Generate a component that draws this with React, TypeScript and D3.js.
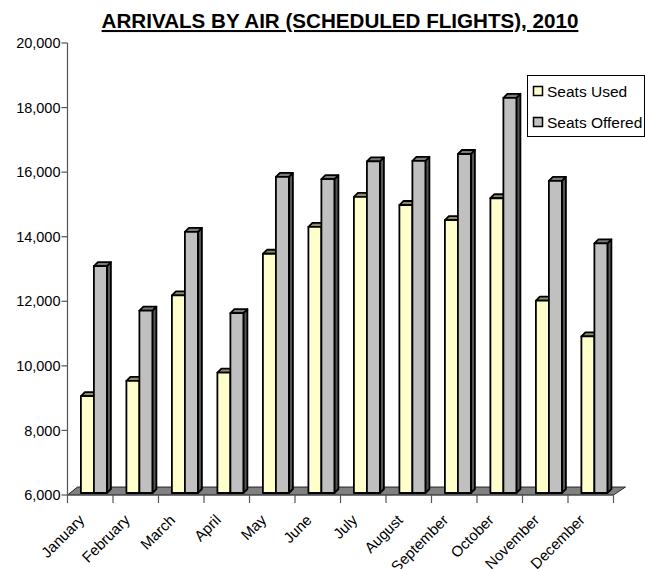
import React from "react";
import * as d3 from "d3";

const months = ["January","February","March","April","May","June","July","August","September","October","November","December"];
const seatsUsed = [9000, 9470, 12120, 9730, 13410, 14240, 15170, 14920, 14450, 15130, 11960, 10850];
const seatsOffered = [13030, 11650, 14090, 11570, 15790, 15720, 16270, 16290, 16500, 18240, 15670, 13730];
const yTicks = [6000, 8000, 10000, 12000, 14000, 16000, 18000, 20000];
const seriesNames = ["Seats Used", "Seats Offered"];

const W = 645, H = 569;
const FONT = "'Liberation Sans', Arial, sans-serif";

export default function App() {
  const y = d3.scaleLinear().domain([6000, 20000]).range([495, 43]);
  const x0 = d3.scaleBand<string>().domain(months).range([67.5, 613.5]);
  const x1 = d3.scaleBand<string>().domain(seriesNames).range([13.4, 39.4]);
  const fmt = d3.format(",");
  const dx = 4, dy = 4, lift = 2;
  const front = ["#FFFFCC", "#C0C0C0"];
  const topC = ["#8C8C6A", "#7A7A7A"];
  const sideC = ["#70705A", "#555555"];
  const floorDx = 10, floorDy = 8;
  const base = y(6000);

  const bars: React.ReactNode[] = [];
  months.forEach((m, i) => {
    [seatsUsed[i], seatsOffered[i]].forEach((v, s) => {
      const xl = (x0(m) as number) + (x1(seriesNames[s]) as number);
      const w = x1.bandwidth();
      const xr = xl + w;
      const yt = y(v) - lift;
      const yb = base - lift;
      bars.push(
        <g key={m + s} stroke="#000" strokeWidth={1.8} strokeLinejoin="round">
          <polygon points={`${xr},${yt} ${xr + dx},${yt - dy} ${xr + dx},${yb - dy} ${xr},${yb}`} fill={sideC[s]} />
          <polygon points={`${xl},${yt} ${xl + dx},${yt - dy} ${xr + dx},${yt - dy} ${xr},${yt}`} fill={topC[s]} />
          <rect x={xl} y={yt} width={w} height={yb - yt} fill={front[s]} />
        </g>
      );
    });
  });

  const xStart = 67.5, xEnd = 613.5;
  const ticksX = months.map((m) => x0(m) as number).concat([xEnd]);

  return (
    <svg width={W} height={H} style={{ position: "absolute", left: 0, top: 0, background: "#fff" }} fontFamily={FONT}>
      <rect width={W} height={H} fill="#fff" />
      <text x={340} y={28} textAnchor="middle" fontSize={20.6} fontWeight="bold" textDecoration="underline">
        ARRIVALS BY AIR (SCHEDULED FLIGHTS), 2010
      </text>
      {/* floor */}
      <polygon
        points={`${xStart},${base} ${xEnd},${base} ${xEnd + floorDx + 2},${base - floorDy} ${xStart + floorDx},${base - floorDy}`}
        fill="#808080" stroke="#000" strokeWidth={0.8}
      />
      {/* value axis */}
      <line x1={xStart} x2={xStart} y1={y(20000)} y2={base} stroke="#555" strokeWidth={1.2} />
      {yTicks.map((t) => (
        <g key={t}>
          <line x1={xStart - 6} x2={xStart} y1={y(t)} y2={y(t)} stroke="#555" strokeWidth={1.2} />
          <text x={xStart - 7} y={y(t)} dy="0.35em" textAnchor="end" fontSize={14.5}>{fmt(t)}</text>
        </g>
      ))}
      {/* category axis */}
      <line x1={xStart} x2={xEnd} y1={base} y2={base} stroke="#555" strokeWidth={1.2} />
      {ticksX.map((t, i) => (
        <line key={i} x1={t} x2={t} y1={base} y2={base + 8} stroke="#555" strokeWidth={1.2} />
      ))}
      {bars}
      {months.map((m) => {
        const cx = (x0(m) as number) + x0.bandwidth() / 2 - 5;
        const cy = 521;
        return (
          <text key={m} x={cx} y={cy} textAnchor="end" fontSize={15} transform={`rotate(-45 ${cx} ${cy})`}>{m}</text>
        );
      })}
      {/* legend */}
      <rect x={527.5} y={75.5} width={117} height={61} fill="#fff" stroke="#000" strokeWidth={1} />
      {seriesNames.map((n, i) => (
        <g key={n}>
          <rect x={533.5} y={86.5 + i * 31} width={9} height={9} fill={front[i]} stroke="#000" strokeWidth={1.5} />
          <text x={547} y={96.5 + i * 31} fontSize={15.5}>{n}</text>
        </g>
      ))}
    </svg>
  );
}
